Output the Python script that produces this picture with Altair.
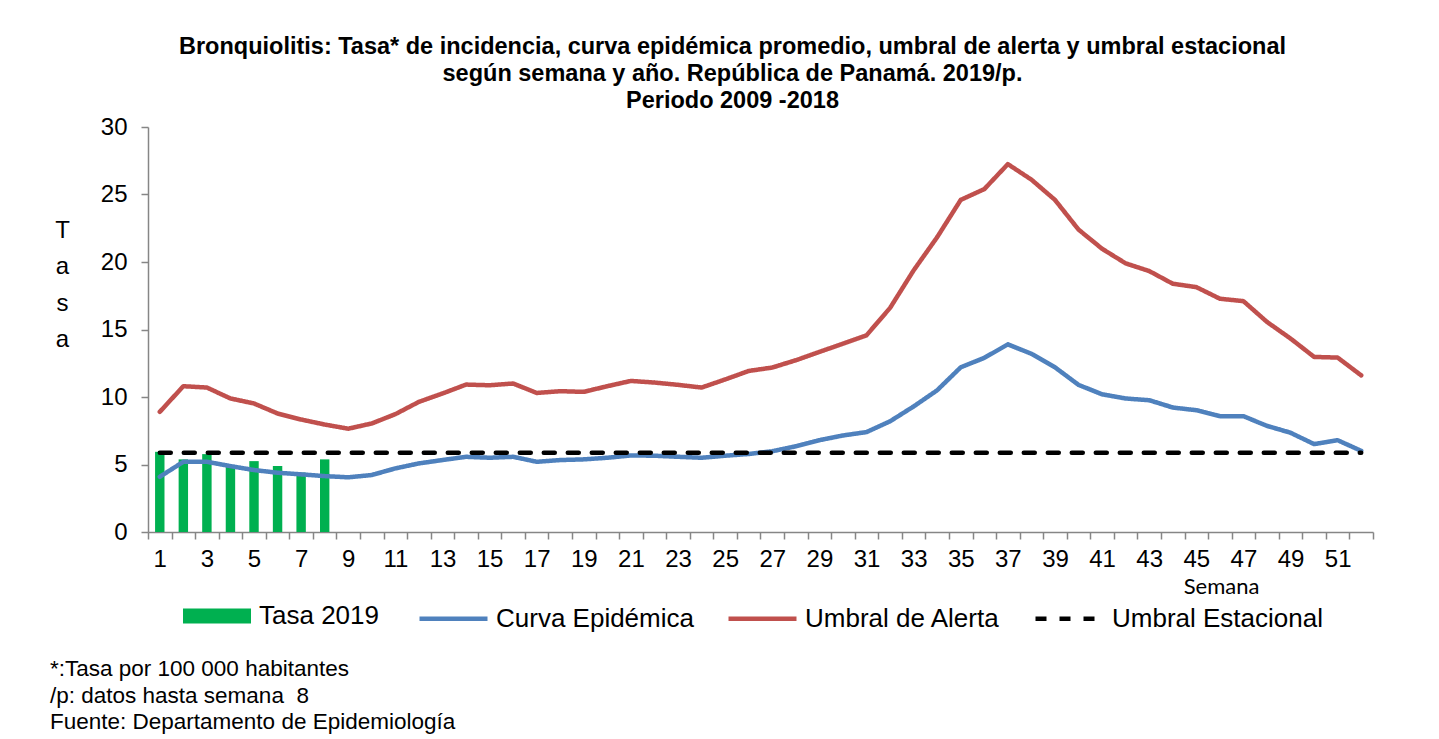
import altair as alt
import pandas as pd

semanas = list(range(1, 53))

tasa_2019 = [5.94, 5.38, 5.77, 4.85, 5.25, 4.88, 4.4, 5.38]

curva_epidemica = [
    4.09, 5.2, 5.2, 4.88, 4.59, 4.39, 4.27, 4.14, 4.05, 4.22,
    4.71, 5.08, 5.33, 5.57, 5.5, 5.57, 5.2, 5.33, 5.38, 5.5,
    5.67, 5.65, 5.57, 5.5, 5.65, 5.78, 5.98, 6.35, 6.8, 7.15,
    7.4, 8.2, 9.3, 10.5, 12.2, 12.9, 13.9, 13.2, 12.2, 10.9,
    10.2, 9.89, 9.76, 9.22, 9.02, 8.58, 8.58, 7.86, 7.35, 6.51,
    6.8, 6.01,
]

umbral_alerta = [
    8.9, 10.8, 10.7, 9.89, 9.52, 8.78, 8.33, 7.96, 7.65, 8.04,
    8.73, 9.64, 10.26, 10.92, 10.87, 11.0, 10.3, 10.43, 10.38, 10.8,
    11.19, 11.07, 10.9, 10.7, 11.3, 11.93, 12.18, 12.72, 13.34, 13.95,
    14.57, 16.6, 19.38, 21.84, 24.6, 25.4, 27.25, 26.1, 24.6, 22.4,
    20.98, 19.9, 19.33, 18.39, 18.14, 17.28, 17.1, 15.56, 14.33, 12.97,
    12.92, 11.6,
]

umbral_estacional = [
    5.87, 5.87, 5.87, 5.87, 5.87, 5.87, 5.87, 5.87, 5.87, 5.87,
    5.87, 5.87, 5.87, 5.87, 5.87, 5.87, 5.87, 5.87, 5.87, 5.87,
    5.87, 5.87, 5.87, 5.87, 5.87, 5.87, 5.87, 5.87, 5.87, 5.87,
    5.87, 5.87, 5.87, 5.87, 5.87, 5.87, 5.87, 5.87, 5.87, 5.87,
    5.87, 5.87, 5.87, 5.87, 5.87, 5.87, 5.87, 5.87, 5.87, 5.87,
    5.87, 5.87,
]

serie_bar = "Tasa 2019"
series_lineas = ["Curva Epidémica", "Umbral de Alerta", "Umbral Estacional"]
colores_lineas = ["#4F81BD", "#C0504D", "#000000"]

titulo = [
    "Bronquiolitis: Tasa* de incidencia, curva epidémica promedio, umbral de alerta y umbral estacional",
    "según semana y año. República de Panamá. 2019/p.",
    "Periodo 2009 -2018",
]
notas = [
    "*:Tasa por 100 000 habitantes",
    "/p: datos hasta semana\u00a0 8",
    "Fuente: Departamento de Epidemiología",
]

FONT = "Liberation Sans"

bars_df = pd.DataFrame({
    "semana": semanas[: len(tasa_2019)],
    "tasa": tasa_2019,
    "serie": serie_bar,
})

lines_df = pd.concat([
    pd.DataFrame({"semana": semanas, "tasa": vals, "serie": name, "orden": i})
    for i, (name, vals) in enumerate(zip(series_lineas, [curva_epidemica, umbral_alerta, umbral_estacional]))
])

x_enc = alt.X(
    "semana:O",
    scale=alt.Scale(domain=semanas, paddingInner=0, paddingOuter=0),
    axis=alt.Axis(
        title="Semana",
        titleFont="Lato",
        titleFontSize=22,
        titleFontWeight="normal",
        titleColor="#000000",
        titleX=1073,
        titleY=61,
        titleAlign="center",
        titleBaseline="alphabetic",
        labelExpr="datum.value % 2 == 1 ? datum.label : ''",
        labelAngle=0,
        labelFont=FONT,
        labelFontSize=24,
        labelColor="#000000",
        labelPadding=8,
        labelOverlap=False,
        tickBand="extent",
        tickSize=7,
        tickColor="#868686",
        tickWidth=1.5,
        domainColor="#868686",
        domainWidth=1.5,
        grid=False,
    ),
)

y_enc = alt.Y(
    "tasa:Q",
    scale=alt.Scale(domain=[0, 30], nice=False),
    axis=alt.Axis(
        values=[0, 5, 10, 15, 20, 25, 30],
        title=["T", "a", "s", "a"],
        titleAngle=0,
        titleFont=FONT,
        titleFontSize=24,
        titleFontWeight="normal",
        titleColor="#000000",
        titleAlign="center",
        titleBaseline="top",
        titleX=-86,
        titleY=91,
        titleLineHeight=36.5,
        labelFont=FONT,
        labelFontSize=24,
        labelColor="#000000",
        labelPadding=14,
        tickSize=7,
        tickColor="#868686",
        tickWidth=1.5,
        domainColor="#868686",
        domainWidth=1.5,
        grid=False,
    ),
)

bars = alt.Chart(bars_df).mark_bar(width={"band": 0.4}).encode(
    x=x_enc,
    y=y_enc,
    fill=alt.Fill(
        "serie:N",
        scale=alt.Scale(domain=[serie_bar], range=["#00B050"]),
        legend=alt.Legend(
            orient="none",
            legendX=35,
            legendY=455,
            title=None,
            symbolType="M-1,-0.22H1V0.22H-1Z",
            symbolSize=4624,
            symbolStrokeWidth=0,
            symbolOpacity=1,
            labelFont=FONT,
            labelFontSize=26,
            labelColor="#000000",
            labelOffset=8,
            labelLimit=500,
        ),
    ),
)

leg_lines = alt.Legend(
    orient="none",
    legendX=269,
    legendY=455,
    direction="horizontal",
    title=None,
    symbolType="stroke",
    symbolSize=4624,
    symbolStrokeWidth=4.5,
    labelFont=FONT,
    labelFontSize=26,
    labelColor="#000000",
    labelOffset=6,
    labelLimit=500,
    columnPadding=25,
)

lines = alt.Chart(lines_df).mark_line(strokeCap="round", strokeJoin="round").encode(
    x=x_enc,
    y=y_enc,
    stroke=alt.Stroke("serie:N", scale=alt.Scale(domain=series_lineas, range=colores_lineas), legend=leg_lines),
    strokeDash=alt.StrokeDash(
        "serie:N",
        scale=alt.Scale(domain=series_lineas, range=[[1, 0], [1, 0], [11, 13]]),
        legend=leg_lines,
    ),
    strokeWidth=alt.StrokeWidth(
        "serie:N",
        scale=alt.Scale(domain=series_lineas, range=[4.5, 4.5, 6]),
        legend=None,
    ),
    order="orden:Q",
)

notes = alt.Chart(alt.Data(values=[{"t": "\n".join(notas)}])).mark_text(
    align="left",
    baseline="alphabetic",
    lineBreak="\n",
    lineHeight=26.5,
    font=FONT,
    fontSize=22.5,
    color="#000000",
).encode(
    x=alt.value(-98),
    y=alt.value(549),
    text="t:N",
)

chart = alt.layer(bars, lines, notes).properties(
    width=1225,
    height=405,
    title=alt.TitleParams(
        text=titulo,
        font=FONT,
        fontSize=23.5,
        fontWeight="bold",
        color="#000000",
        anchor="middle",
        dx=-28,
        lineHeight=27,
        offset=3,
    ),
    autosize=alt.AutoSizeParams(type="none"),
    padding={"left": 140, "top": 119, "right": 40, "bottom": 207},
    background="#FFFFFF",
).configure_view(stroke=None)

chart.save("out.html", embed_options={"renderer": "svg", "actions": False})
